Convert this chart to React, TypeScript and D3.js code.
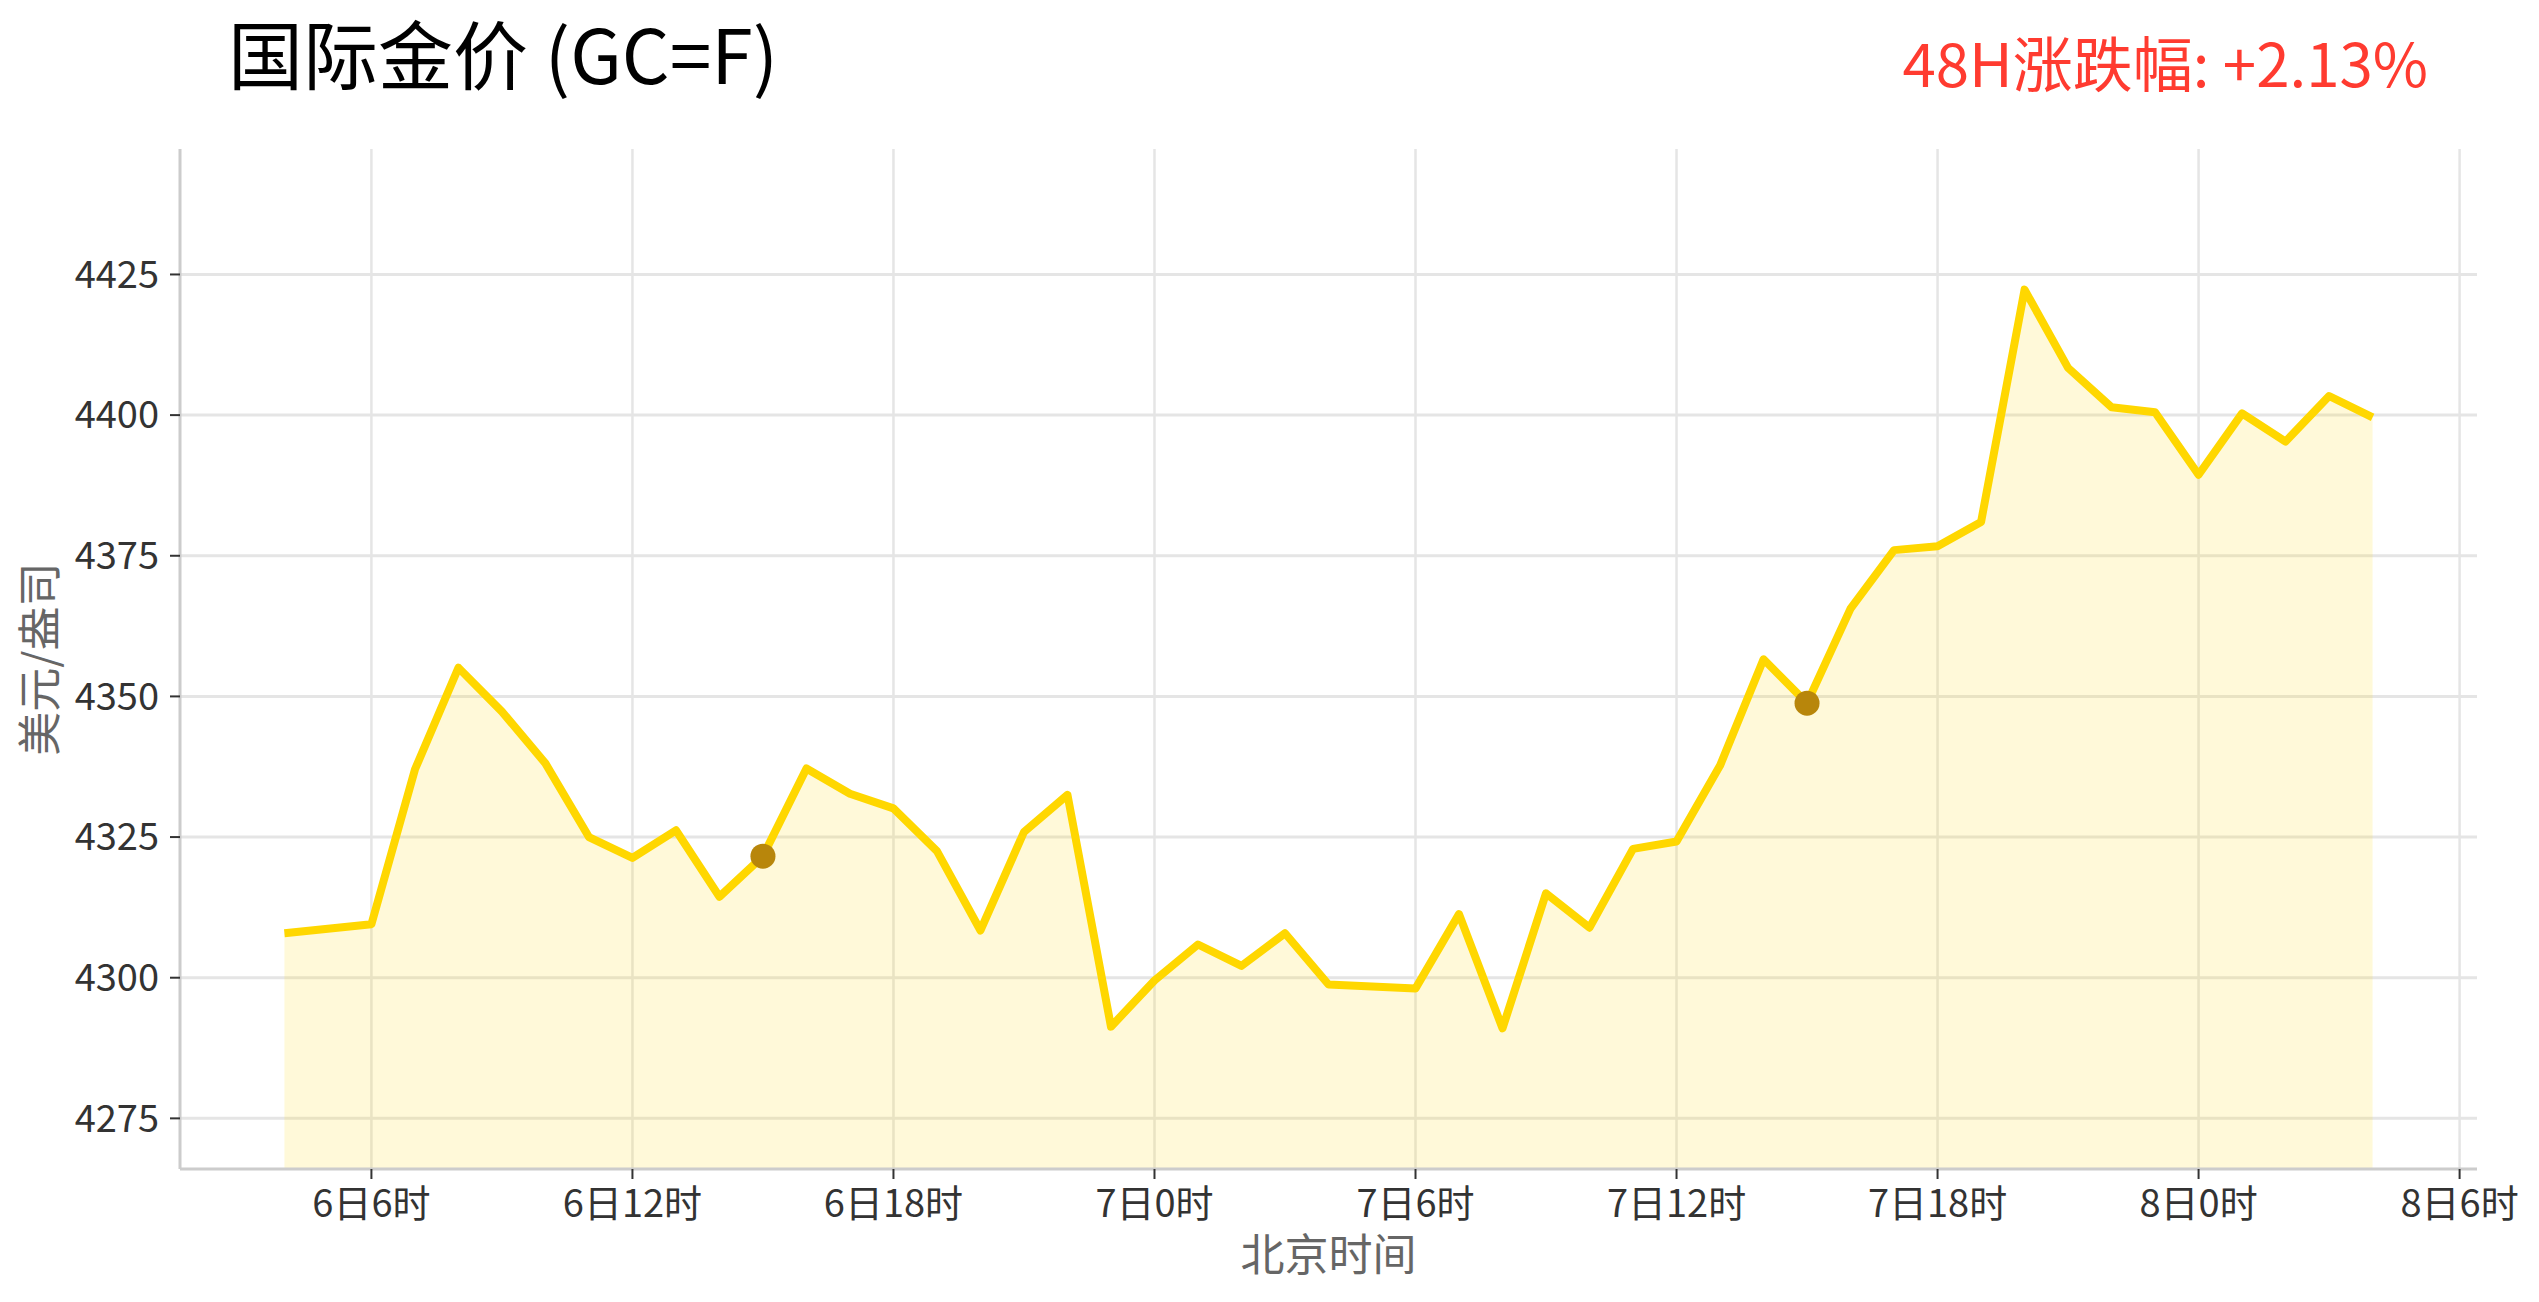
import React from 'react';
import * as d3 from 'd3';

// hours counted from 6日0时 (Beijing time)
const hours = [
  4, 6, 7, 8, 9, 10, 11, 12, 13, 14, 15, 16, 17, 18, 19, 20, 21, 22, 23,
  24, 25, 26, 27, 28, 30, 31, 32, 33, 34, 35, 36, 37, 38, 39, 40, 41, 42, 43, 44, 45, 46, 47,
  48, 49, 50, 51, 52,
];

const prices = [
  4307.9, 4309.5, 4337.0, 4355.1, 4347.3, 4338.1, 4325.0, 4321.3, 4326.2, 4314.4,
  4321.6, 4337.2, 4332.7, 4330.1, 4322.5, 4308.4, 4325.9, 4332.5, 4291.3,
  4299.5, 4305.9, 4302.1, 4307.9, 4298.8, 4298.1, 4311.3, 4291.0, 4315.0, 4308.9,
  4322.9, 4324.2, 4337.7, 4356.6, 4348.8, 4365.6, 4376.0, 4376.7, 4381.0, 4422.3,
  4408.4, 4401.4, 4400.5,
  4389.4, 4400.3, 4395.3, 4403.4, 4399.6,
];

const markerHours = [15, 39];

const xTickHours = [6, 12, 18, 24, 30, 36, 42, 48, 54];
const xTickLabels = ['6日6时', '6日12时', '6日18时', '7日0时', '7日6时', '7日12时', '7日18时', '8日0时', '8日6时'];
const yTicks = [4275, 4300, 4325, 4350, 4375, 4400, 4425];

const W = 2539;
const H = 1302;
const margin = { left: 180, right: W - 2477, top: 149, bottom: H - 1169 };
const FONT = '"Noto Sans CJK SC", "Noto Sans", sans-serif';

const App: React.FC = () => {
  const data = hours.map((h, i) => ({ h, v: prices[i] }));
  const span = d3.max(hours)! - d3.min(hours)!;
  const x = d3
    .scaleLinear()
    .domain([d3.min(hours)! - span * 0.05, d3.max(hours)! + span * 0.05])
    .range([margin.left, W - margin.right]);
  const y = d3
    .scaleLinear()
    .domain([d3.min(prices)! - 25, d3.max(prices)! + 25])
    .range([H - margin.bottom, margin.top]);

  const line = d3
    .line<{ h: number; v: number }>()
    .x(d => x(d.h))
    .y(d => y(d.v));
  const area = d3
    .area<{ h: number; v: number }>()
    .x(d => x(d.h))
    .y0(y.range()[0])
    .y1(d => y(d.v));

  const change = (prices[prices.length - 1] / prices[0] - 1) * 100;
  const left = margin.left;
  const right = W - margin.right;
  const top = margin.top;
  const bottom = H - margin.bottom;

  return (
    <svg
      width={W}
      height={H}
      style={{ position: 'absolute', left: 0, top: 0, background: '#fff' }}
      fontFamily={FONT}
    >
      {/* grid */}
      {xTickHours.map(h => (
        <line key={'gx' + h} x1={x(h)} x2={x(h)} y1={top} y2={bottom} stroke="#e5e5e5" strokeWidth={2.5} />
      ))}
      {yTicks.map(t => (
        <line key={'gy' + t} x1={left} x2={right} y1={y(t)} y2={y(t)} stroke="#e5e5e5" strokeWidth={3} />
      ))}

      {/* area + line */}
      <path d={area(data) || ''} fill="#FFD700" fillOpacity={0.15} />
      <path
        d={line(data) || ''}
        fill="none"
        stroke="#FFD700"
        strokeWidth={8}
        strokeLinejoin="round"
        strokeLinecap="butt"
      />
      {markerHours.map(h => {
        const i = hours.indexOf(h);
        return <circle key={'m' + h} cx={x(h)} cy={y(prices[i])} r={12.5} fill="#B8860B" />;
      })}

      {/* spines */}
      <line x1={left} x2={left} y1={top} y2={bottom} stroke="#cccccc" strokeWidth={3} />
      <line x1={left} x2={right} y1={bottom} y2={bottom} stroke="#cccccc" strokeWidth={3} />

      {/* y ticks */}
      {yTicks.map(t => (
        <g key={'ty' + t}>
          <line x1={left - 10} x2={left} y1={y(t)} y2={y(t)} stroke="#333" strokeWidth={2} />
          <text x={left - 21} y={y(t)} dy="0.35em" textAnchor="end" fontSize={38} fill="#333">
            {t}
          </text>
        </g>
      ))}

      {/* x ticks */}
      {xTickHours.map((h, i) => (
        <g key={'tx' + h}>
          <line x1={x(h)} x2={x(h)} y1={bottom} y2={bottom + 10} stroke="#333" strokeWidth={2} />
          <text x={x(h)} y={1217} textAnchor="middle" fontSize={38} fill="#333">
            {xTickLabels[i]}
          </text>
        </g>
      ))}

      {/* axis labels */}
      <text x={(left + right) / 2} y={1271} textAnchor="middle" fontSize={44} fill="#666">
        北京时间
      </text>
      <text
        transform={`translate(56, ${(top + bottom) / 2}) rotate(-90)`}
        textAnchor="middle"
        fontSize={44}
        fill="#666"
      >
        美元/盎司
      </text>

      {/* titles */}
      <text x={228} y={84} fontSize={75} fill="#000">
        国际金价 (GC=F)
      </text>
      <text x={2428} y={87} textAnchor="end" fontSize={60} fill="#FF3B30">
        {`48H涨跌幅: ${change >= 0 ? '+' : ''}${change.toFixed(2)}%`}
      </text>
    </svg>
  );
};

export default App;
